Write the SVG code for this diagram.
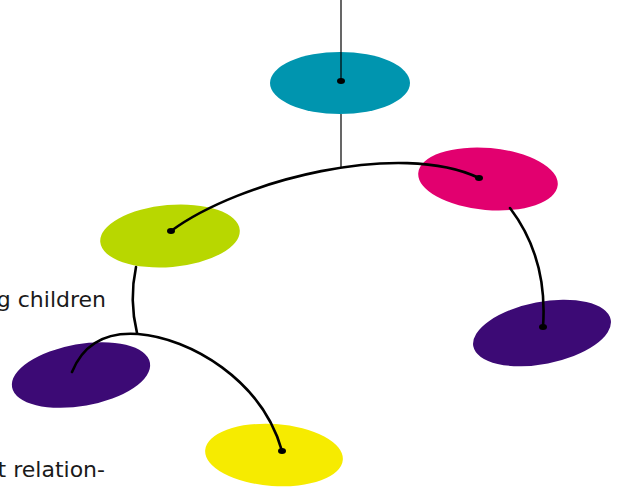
<svg xmlns="http://www.w3.org/2000/svg" width="621" height="492" viewBox="0 0 621 492">
<style>
.thin{stroke:#000;stroke-width:1.2;fill:none}
.wire{stroke:#000;stroke-width:2.6;fill:none;stroke-linecap:round}
.dot{fill:#000}
.lbl{font-family:"DejaVu Sans",Verdana,sans-serif;font-size:22px;fill:#1a1a1a}
</style>
<rect width="621" height="492" fill="#fff"/>
<g id="nodes">
<g id="teal"><ellipse cx="340" cy="83" rx="70" ry="31" fill="#0095AF"/></g>
<g id="green"><ellipse cx="170" cy="236" rx="70" ry="31" fill="#B8D700" transform="rotate(-5 170 236)"/></g>
<g id="pink"><ellipse cx="488" cy="179" rx="70" ry="31" fill="#E2006F" transform="rotate(5 488 179)"/></g>
<g id="purple-right"><ellipse cx="542" cy="333" rx="70" ry="31" fill="#3C0A75" transform="rotate(-11 542 333)"/></g>
<g id="purple-left"><ellipse cx="81" cy="375" rx="70" ry="31" fill="#3C0A75" transform="rotate(-10 81 375)"/></g>
<g id="yellow"><ellipse cx="274" cy="455" rx="69" ry="31" fill="#F6EB00" transform="rotate(4 274 455)"/></g>
</g>
<g id="connectors">
<line class="thin" x1="341" y1="0" x2="341" y2="81"/>
<line class="thin" x1="341" y1="114" x2="341" y2="167"/>
<path class="wire" d="M171,231 C240,180 400,140 479,178"/>
<path class="wire" d="M510,208 Q548,258 543,327"/>
<path class="wire" d="M136,267 Q129,300 137,333"/>
<path class="wire" d="M72,372 C85,340 110,332 138,334 C190,338 262,380 282,451"/>
<ellipse class="dot" cx="341" cy="81" rx="4" ry="3"/>
<ellipse class="dot" cx="171" cy="231" rx="4" ry="3"/>
<ellipse class="dot" cx="479" cy="178" rx="4" ry="3"/>
<ellipse class="dot" cx="543" cy="327" rx="4" ry="3"/>
<ellipse class="dot" cx="282" cy="451" rx="4" ry="3"/>
</g>
<text class="lbl" x="106" y="307" text-anchor="end">g children</text>
<text class="lbl" x="105" y="477" text-anchor="end">t relation-</text>
</svg>
